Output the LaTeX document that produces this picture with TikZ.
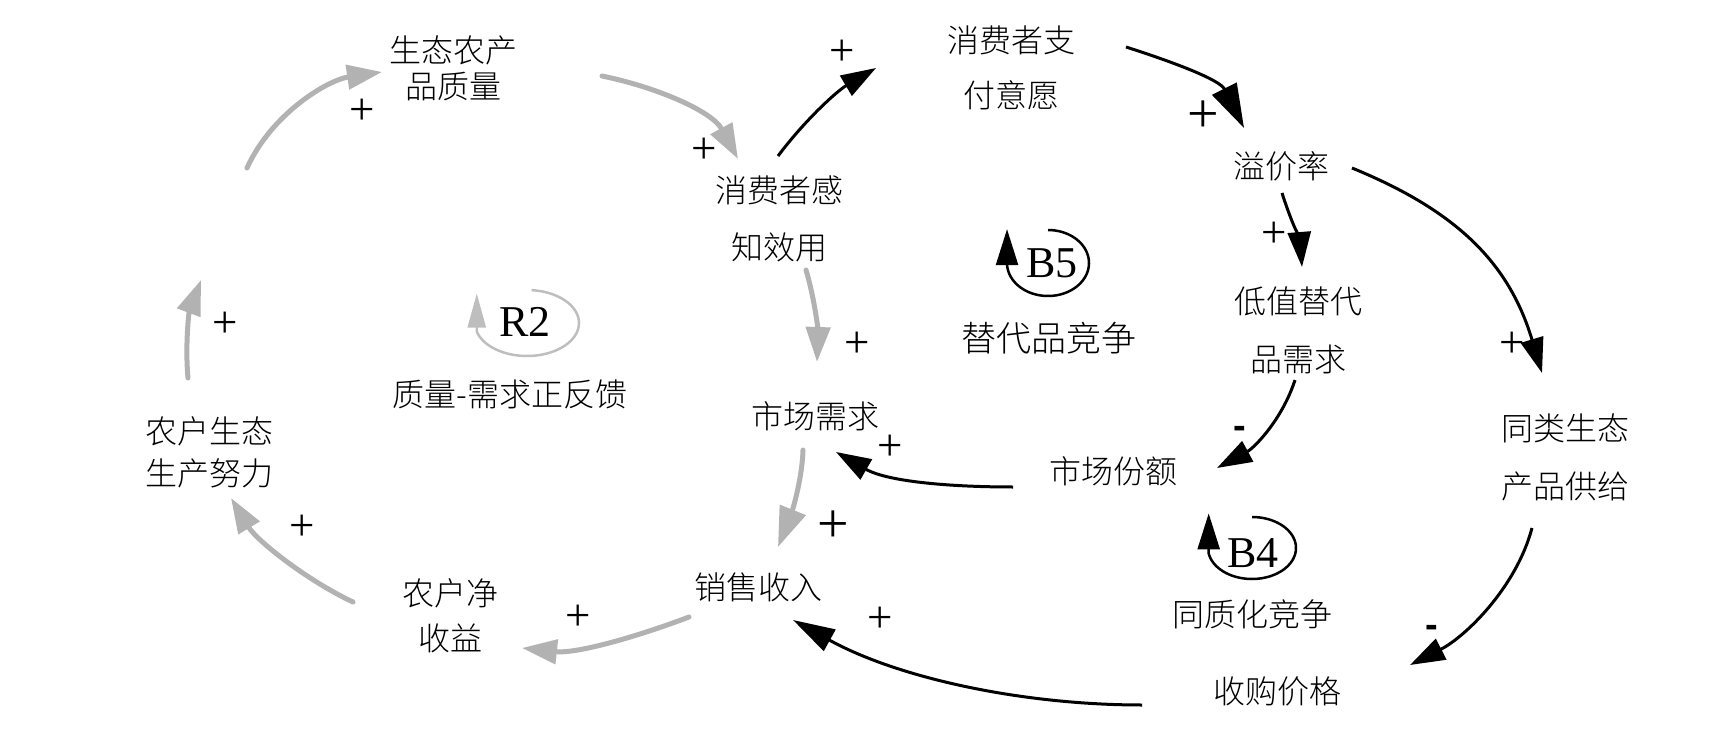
\documentclass[tikz,border=0pt]{standalone}
\usepackage{fontspec}
\setmainfont{Liberation Serif}
\newfontfamily\cjk{Noto Sans CJK SC}[UprightFont={* Light}]
\newfontfamily\sgnsans{Liberation Sans}
\usetikzlibrary{arrows.meta}
\definecolor{lgray}{RGB}{178,178,178}
\definecolor{lgrayb}{RGB}{190,190,190}
\begin{document}
\begin{tikzpicture}[x=1pt,y=-1pt,
  var/.style={font=\cjk\fontsize{32}{36}\selectfont,align=center,inner sep=0pt},
  lbl/.style={font=\cjk\fontsize{32}{36}\selectfont,inner sep=0pt},
  sgn/.style={font=\fontsize{45}{45}\selectfont,inner sep=0pt},
  bigsgn/.style={font=\fontsize{56}{56}\selectfont,inner sep=0pt},
  neg/.style={font=\sgnsans\bfseries\fontsize{38}{38}\selectfont,inner sep=0pt},
  loopname/.style={font=\fontsize{44}{44}\selectfont,inner sep=0pt},
  garrow/.style={draw=lgray,line width=5pt,line cap=round,-{Triangle[length=35pt,width=24pt]}},
  barrow/.style={draw=black,line width=3pt,-{Triangle[length=35pt,width=23pt]}},
  bigtip/.style={-{Triangle[length=44pt,width=27pt]}},
  gloop/.style={draw=lgrayb,line width=2.5pt,-{Triangle[length=34pt,width=18pt]}},
  bloop/.style={draw=black,line width=2.5pt,-{Triangle[length=36pt,width=22pt]}},
]
\useasboundingbox (0,0) rectangle (1732,730);

% variables
\node[var] (q) at (453,68) {生态农产\\品质量};
\node[var] (u) at (779,219) {消费者感\\[21pt]知效用};
\node[var] (w) at (1011,68) {消费者支\\[19pt]付意愿};
\node[var] (p) at (1281,166) {溢价率};
\node[var] (s) at (1298,330) {低值替代\\[22pt]品需求};
\node[var] (h) at (1565,457) {同类生态\\[22pt]产品供给};
\node[var] (m) at (1113,471) {市场份额};
\node[var] (d) at (815,416) {市场需求};
\node[var] (r) at (758,587) {销售收入};
\node[var] (g) at (1277,691) {收购价格};
\node[var] (n) at (450,616) {农户净\\[9pt]收益};
\node[var] (e) at (209,452) {农户生态\\[6pt]生产努力};
\coordinate (hid) at (215,225);

% loop markers
\node[loopname] (r2) at (525,322) {R2};
\node[lbl] (r2l) at (510,394) {质量-需求正反馈};
\draw[gloop] plot[domain=-85:165,samples=60,smooth,variable=\t] ({527+52*cos(\t)},{323+33*sin(\t)}) -- ++(0,-38);

\node[loopname] (b5) at (1052,263) {B5};
\node[lbl,font=\cjk\fontsize{35}{36}\selectfont] (b5l) at (1049,338) {替代品竞争};
\draw[bloop] plot[domain=-90:178,samples=60,smooth,variable=\t] ({1048+41*cos(\t)},{263+33*sin(\t)}) -- ++(0,-35);

\node[loopname] (b4) at (1253,553) {B4};
\node[lbl] (b4l) at (1252,614) {同质化竞争};
\draw[bloop] plot[domain=-90:170,samples=60,smooth,variable=\t] ({1252+44*cos(\t)},{548+31*sin(\t)}) -- ++(0,-40);

% gray loop R2
\draw[garrow] ([shift={(-21,-74)}]e.center) .. controls +(-3,-33) and +(-12,32) .. ([shift={(-14,55)}]hid);
\draw[garrow] ([shift={(32,-57)}]hid) .. controls +(25,-55) and +(-54,8) .. ([shift={(-71,4)}]q.center);
\draw[garrow] ([shift={(149,8)}]q.center) .. controls +(54,11) and +(-26,-48) .. ([shift={(-41,-60)}]u.center);
\draw[garrow] ([shift={(27,51)}]u.center) .. controls +(9,30) and +(1,-30) .. ([shift={(2,-54)}]d.center);
\draw[garrow,-{Triangle[length=40pt,width=27pt]}] ([shift={(-12,34)}]d.center) .. controls +(-1,33) and +(12,-30) .. ([shift={(20,-40)}]r.center);
\draw[garrow] ([shift={(-69,30)}]r.center) .. controls +(-50,19) and +(55,6) .. ([shift={(72,32)}]n.center);
\draw[garrow] ([shift={(-97,-14)}]n.center) .. controls +(-45,-21) and +(26,43) .. ([shift={(22,46)}]e.center);

% black links
\draw[barrow] ([shift={(-1,-63)}]u.center) .. controls +(27,-36) and +(-39,23) .. ([shift={(-135,0)}]w.center);
\draw[barrow,bigtip] ([shift={(115,-21)}]w.center) .. controls +(50,16) and +(-24,-48) .. ([shift={(-37,-38)}]p.center);
\draw[barrow] ([shift={(1,27)}]p.center) .. controls +(8,25) and +(-2,-25) .. ([shift={(4,-63)}]s.center);
\draw[barrow] ([shift={(71,2)}]p.center) .. controls +(105,43) and +(-33,-110) .. ([shift={(-23,-84)}]h.center);
\draw[barrow] ([shift={(-3,50)}]s.center) .. controls +(-13,40) and +(37,-20) .. ([shift={(104,-3)}]m.center);
\draw[barrow] ([shift={(-100,16)}]m.center) .. controls +(-60,0) and +(52,30) .. ([shift={(21,36)}]d.center);
\draw[barrow] ([shift={(-33,71)}]h.center) .. controls +(-16,60) and +(55,-28) .. ([shift={(133,-26)}]g.center);
\draw[barrow,-{Triangle[length=42pt,width=24pt]}] ([shift={(-135,14)}]g.center) .. controls +(-120,0) and +(105,58) .. ([shift={(35,33)}]r.center);

% polarity signs
\node[sgn] (s1) at (225,325) {+};
\node[sgn] (s2) at (362,112) {+};
\node[sgn] (s3) at (704,151) {+};
\node[sgn] (s4) at (857,345) {+};
\node[bigsgn] (s5) at (833,527) {+};
\node[sgn] (s6) at (578,618) {+};
\node[sgn] (s7) at (302,528) {+};
\node[sgn] (s8) at (842,53) {+};
\node[bigsgn] (s9) at (1203,117) {+};
\node[sgn] (s10) at (1274,235) {+};
\node[sgn] (s11) at (1512,345) {+};
\node[neg] (s12) at (1240,432) {-};
\node[sgn] (s13) at (890,448) {+};
\node[neg] (s14) at (1432,631) {-};
\node[sgn] (s15) at (880,620) {+};
\end{tikzpicture}
\end{document}
